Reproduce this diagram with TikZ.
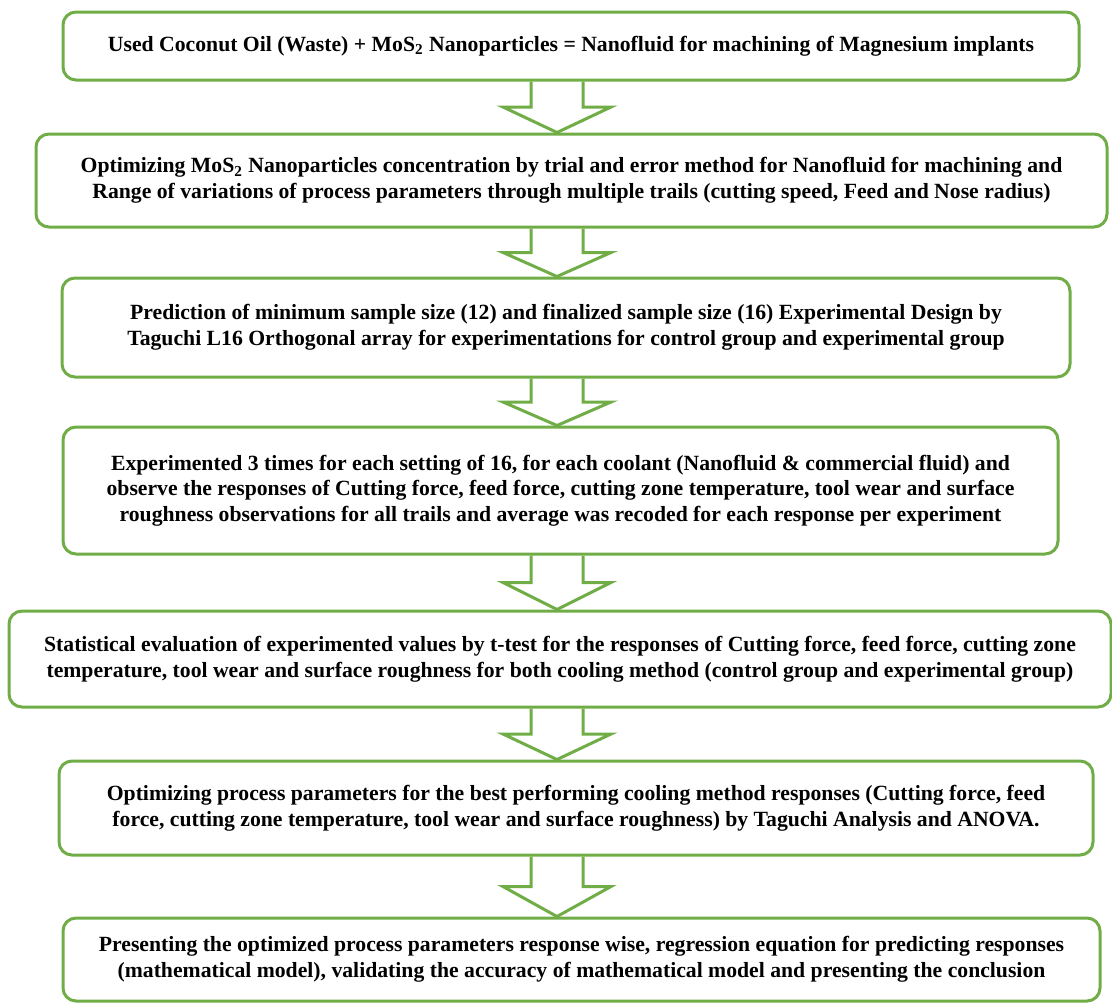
\documentclass[tikz,border=0pt]{standalone}
\usepackage{fontspec}
\setmainfont{Liberation Serif}
\usetikzlibrary{calc}
\definecolor{boxgreen}{RGB}{112,173,71}

% hollow block arrow from one box down to the next
\newcommand{\flowarrow}[2]{%
  \coordinate (s) at (axis |- #1.south);
  \coordinate (e) at (axis |- #2.north);
  \coordinate (m) at ($(s)!0.5!(e)$);
  \draw[bigarrow] ($(s)+(-13pt,0)$) -- ($(m)+(-13pt,0)$) -- ($(m)+(-27pt,0)$) -- (e)
    -- ($(m)+(27pt,0)$) -- ($(m)+(13pt,0)$) -- ($(s)+(13pt,0)$);
}

\begin{document}
\begin{tikzpicture}
		[x=0.5pt, y=-0.5pt,
			block/.style ={rectangle, draw=boxgreen, line width=1.5pt, rounded corners=6.5pt, align=center, inner sep=0pt, font=\fontsize{10.85}{12.8}\selectfont\bfseries},
 bigarrow/.style ={draw=boxgreen, line width=1.5pt, line join=miter}]
		\useasboundingbox (0,0) rectangle (1112,1003);
		\coordinate (axis) at (557,0);
		\path 	(571,46) node[block, minimum width=508pt, minimum height=34pt] (oil) {Used Coconut Oil (Waste) + MoS\textsubscript{2} Nanoparticles = Nanofluid for machining of Magnesium implants}
			(571.5,180.5) node[block, minimum width=535.5pt, minimum height=46.5pt] (conc) {Optimizing MoS\textsubscript{2} Nanoparticles concentration by trial and error method for Nanofluid for machining and\\ Range of variations of process parameters through multiple trails (cutting speed, Feed and Nose radius)}
			(566,327.5) node[block, minimum width=504pt, minimum height=49.5pt] (design) {Prediction of minimum sample size (12) and finalized sample size (16) Experimental Design by\\ Taguchi L16 Orthogonal array for experimentations for control group and experimental group}
			(560.5,490.5) node[block, minimum width=497.5pt, minimum height=63.5pt] (expt) {Experimented 3 times for each setting of 16, for each coolant (Nanofluid \& commercial fluid) and\\ observe the responses of Cutting force, feed force, cutting zone temperature, tool wear and surface\\ roughness observations for all trails and average was recoded for each response per experiment}
			(560,659) node[block, minimum width=551pt, minimum height=48pt] (ttest) {Statistical evaluation of experimented values by t-test for the responses of Cutting force, feed force, cutting zone\\ temperature, tool wear and surface roughness for both cooling method (control group and experimental group)}
			(576,808) node[block, minimum width=517pt, minimum height=47pt] (optim) {Optimizing process parameters for the best performing cooling method responses (Cutting force, feed\\ force, cutting zone temperature, tool wear and surface roughness) by Taguchi Analysis and ANOVA.}
			(581.5,959.5) node[block, minimum width=518.5pt, minimum height=41.5pt] (concl) {Presenting the optimized process parameters response wise, regression equation for predicting responses\\ (mathematical model), validating the accuracy of mathematical model and presenting the conclusion};
		\flowarrow{oil}{conc}
		\flowarrow{conc}{design}
		\flowarrow{design}{expt}
		\flowarrow{expt}{ttest}
		\flowarrow{ttest}{optim}
		\flowarrow{optim}{concl}
	\end{tikzpicture}
\end{document}
